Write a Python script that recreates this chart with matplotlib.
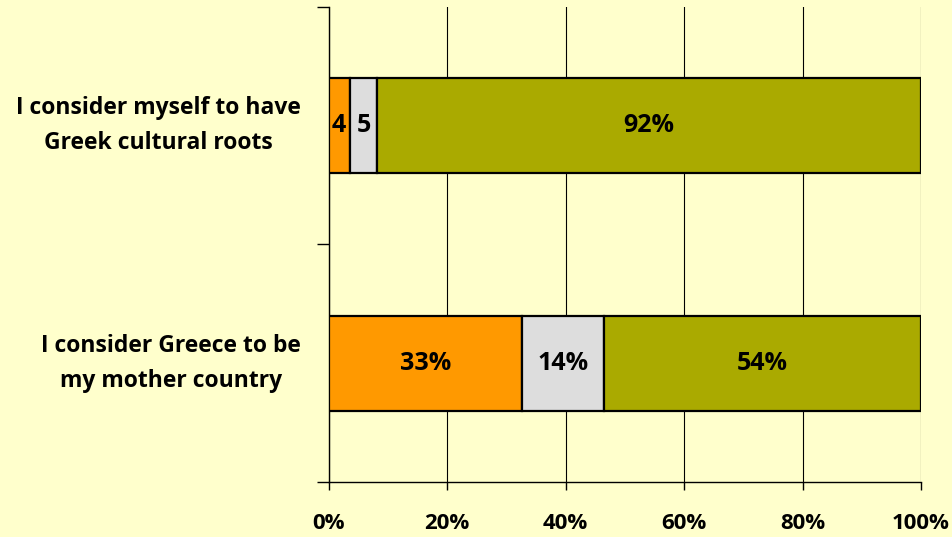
import matplotlib.pyplot as plt
import numpy as np

# data (share of respondents, %)
categories = ["I consider Greece to be\nmy mother country",
              "I consider myself to have\nGreek cultural roots"]
disagree = [32.6, 3.5]
neutral = [13.9, 4.7]
agree = [53.5, 91.8]
labels_disagree = ["33%", "4"]
labels_neutral = ["14%", "5"]
labels_agree = ["54%", "92%"]
x_ticks = [0, 20, 40, 60, 80, 100]
x_tick_labels = ["0%", "20%", "40%", "60%", "80%", "100%"]

plt.rcParams["font.family"] = ["Open Sans", "DejaVu Sans"]
plt.rcParams["font.weight"] = "bold"

bg = "#FFFFCC"
colors = ["#FF9900", "#DDDDDD", "#AAAA00"]

fig = plt.figure(figsize=(9.53, 5.37), dpi=100, facecolor=bg)
ax = fig.add_axes([0.345, 0.1024, 0.6214, 0.8846], facecolor=bg)

y = np.arange(len(categories))
left = np.zeros(len(categories))
series = [(disagree, labels_disagree), (neutral, labels_neutral), (agree, labels_agree)]
for (vals, labs), c in zip(series, colors):
    bars = ax.barh(y, vals, left=left, height=0.4, color=c,
                   edgecolor="black", linewidth=1.6, zorder=3)
    for b, lab in zip(bars, labs):
        ax.text(b.get_x() + b.get_width() / 2, b.get_y() + b.get_height() / 2,
                lab, ha="center", va="center", fontsize=18,
                fontweight="bold", zorder=4)
    left = left + np.array(vals)

ax.set_xlim(0, 100)
ax.set_ylim(-0.5, len(categories) - 0.5)
ax.set_xticks(x_ticks)
ax.set_xticklabels(x_tick_labels, fontsize=16, fontweight="bold")
ax.tick_params(axis="x", length=6, width=1, pad=16)
ax.xaxis.grid(True, color="black", linewidth=0.8, zorder=0)

ax.set_yticks(y)
ax.set_yticklabels(categories, fontsize=16.5, fontweight="bold",
                   multialignment="center", linespacing=1.6, va="center")
ax.set_yticks(np.arange(-0.5, len(categories), 1.0), minor=True)
ax.tick_params(axis="y", which="major", length=0, pad=20)
ax.tick_params(axis="y", which="minor", length=9, width=1)

for s in ["top", "right"]:
    ax.spines[s].set_visible(False)
ax.spines["left"].set_linewidth(1)
ax.spines["bottom"].set_linewidth(1)

fig.savefig("out.png", dpi=100, facecolor=bg)
